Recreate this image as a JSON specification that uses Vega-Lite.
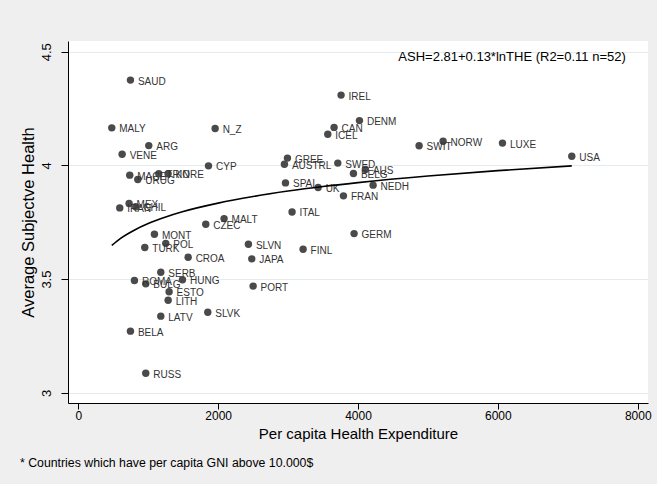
{
  "$schema": "https://vega.github.io/schema/vega-lite/v6.json",
  "width": 580,
  "height": 362,
  "autosize": "none",
  "padding": {"left": 68, "top": 41, "right": 9, "bottom": 81},
  "background": "#efefef",
  "config": {
    "view": {"fill": "white", "stroke": null},
    "font": "Liberation Sans"
  },
  "title": {
    "text": "* Countries which have per capita GNI above 10.000$",
    "orient": "bottom",
    "anchor": "start",
    "frame": "bounds",
    "font": "Liberation Sans",
    "fontSize": 12.3,
    "fontWeight": "normal",
    "color": "#000000",
    "offset": 16
  },
  "datasets": {
    "points": [
      {"country": "SAUD", "the": 746, "ash": 4.375},
      {"country": "MALY", "the": 479, "ash": 4.165},
      {"country": "N_Z", "the": 1957, "ash": 4.162},
      {"country": "ARG", "the": 1008, "ash": 4.087},
      {"country": "VENE", "the": 627, "ash": 4.049},
      {"country": "CYP", "the": 1862, "ash": 3.998},
      {"country": "GREE", "the": 2991, "ash": 4.032},
      {"country": "AUSTRL", "the": 2948, "ash": 4.005},
      {"country": "MACE", "the": 736, "ash": 3.957},
      {"country": "URUG", "the": 851, "ash": 3.938},
      {"country": "TRIN", "the": 1151, "ash": 3.963},
      {"country": "KORE", "the": 1284, "ash": 3.963},
      {"country": "SPAI", "the": 2963, "ash": 3.923},
      {"country": "MEX", "the": 727, "ash": 3.832},
      {"country": "IRAN", "the": 593, "ash": 3.813},
      {"country": "CHIL", "the": 822, "ash": 3.818},
      {"country": "MALT", "the": 2085, "ash": 3.766},
      {"country": "ITAL", "the": 3057, "ash": 3.795},
      {"country": "CZEC", "the": 1823, "ash": 3.741},
      {"country": "MONT", "the": 1089, "ash": 3.697},
      {"country": "POL", "the": 1251, "ash": 3.657},
      {"country": "TURK", "the": 951, "ash": 3.639},
      {"country": "SLVN", "the": 2433, "ash": 3.653},
      {"country": "CROA", "the": 1571, "ash": 3.596},
      {"country": "JAPA", "the": 2481, "ash": 3.589},
      {"country": "SERB", "the": 1180, "ash": 3.530},
      {"country": "ROMA", "the": 803, "ash": 3.494},
      {"country": "BULG", "the": 965, "ash": 3.479},
      {"country": "HUNG", "the": 1490, "ash": 3.497},
      {"country": "PORT", "the": 2500, "ash": 3.469},
      {"country": "ESTO", "the": 1299, "ash": 3.444},
      {"country": "LITH", "the": 1285, "ash": 3.407},
      {"country": "SLVK", "the": 1852, "ash": 3.354},
      {"country": "LATV", "the": 1180, "ash": 3.337},
      {"country": "BELA", "the": 746, "ash": 3.271},
      {"country": "RUSS", "the": 965, "ash": 3.086},
      {"country": "IREL", "the": 3758, "ash": 4.309},
      {"country": "DENM", "the": 4021, "ash": 4.197},
      {"country": "CAN", "the": 3658, "ash": 4.167},
      {"country": "ICEL", "the": 3568, "ash": 4.137},
      {"country": "SWIT", "the": 4874, "ash": 4.086},
      {"country": "SWED", "the": 3711, "ash": 4.010},
      {"country": "BELG", "the": 3935, "ash": 3.964},
      {"country": "AUS", "the": 4106, "ash": 3.982},
      {"country": "UK", "the": 3430, "ash": 3.903},
      {"country": "NEDH", "the": 4216, "ash": 3.913},
      {"country": "FRAN", "the": 3792, "ash": 3.866},
      {"country": "GERM", "the": 3944, "ash": 3.700},
      {"country": "FINL", "the": 3215, "ash": 3.631},
      {"country": "NORW", "the": 5217, "ash": 4.106},
      {"country": "LUXE", "the": 6066, "ash": 4.098},
      {"country": "USA", "the": 7057, "ash": 4.040}
    ],
    "fit": [
      {"the": 479, "ash": 3.648},
      {"the": 600, "ash": 3.678},
      {"the": 800, "ash": 3.715},
      {"the": 1000, "ash": 3.744},
      {"the": 1250, "ash": 3.773},
      {"the": 1500, "ash": 3.797},
      {"the": 2000, "ash": 3.834},
      {"the": 2500, "ash": 3.863},
      {"the": 3000, "ash": 3.887},
      {"the": 3500, "ash": 3.907},
      {"the": 4000, "ash": 3.924},
      {"the": 5000, "ash": 3.953},
      {"the": 6000, "ash": 3.977},
      {"the": 7057, "ash": 3.998}
    ],
    "note": [
      {"the": 7829, "ash": 4.476, "label": "ASH=2.81+0.13*lnTHE (R2=0.11 n=52)"}
    ]
  },
  "encoding": {
    "x": {
      "field": "the",
      "type": "quantitative",
      "scale": {"domain": [-147, 8147], "nice": false, "zero": false},
      "axis": {
        "title": "Per capita Health Expenditure",
        "values": [0, 2000, 4000, 6000, 8000],
        "format": "d",
        "grid": false,
        "domainColor": "#000000",
        "tickColor": "#000000",
        "tickSize": 6,
        "labelPadding": 1,
        "labelFont": "Liberation Sans",
        "labelFontSize": 12,
        "labelColor": "#000000",
        "titleFont": "Liberation Sans",
        "titleFontSize": 15,
        "titleFontWeight": "normal",
        "titleColor": "#000000",
        "titlePadding": 5
      }
    },
    "y": {
      "field": "ash",
      "type": "quantitative",
      "scale": {"domain": [2.955, 4.547], "nice": false, "zero": false},
      "axis": {
        "title": "Average Subjectve Health",
        "values": [3, 3.5, 4, 4.5],
        "format": "~g",
        "grid": true,
        "gridColor": "#e4ebf0",
        "gridWidth": 1.2,
        "domainColor": "#000000",
        "tickColor": "#000000",
        "tickSize": 7,
        "labelAngle": -90,
        "labelAlign": "center",
        "labelBaseline": "bottom",
        "labelPadding": 8,
        "labelFont": "Liberation Sans",
        "labelFontSize": 13,
        "labelColor": "#000000",
        "titleFont": "Liberation Sans",
        "titleFontSize": 16.5,
        "titleFontWeight": "normal",
        "titleColor": "#000000",
        "titlePadding": 4
      }
    }
  },
  "layer": [
    {
      "data": {"name": "points"},
      "mark": {"type": "circle", "size": 55, "color": "#4a4a4a", "opacity": 1}
    },
    {
      "data": {"name": "points"},
      "mark": {"type": "text", "align": "left", "baseline": "middle", "dx": 7.5, "dy": 1.5, "fontSize": 10, "color": "#333333", "font": "Liberation Sans"},
      "encoding": {"text": {"field": "country"}}
    },
    {
      "data": {"name": "fit"},
      "mark": {"type": "line", "color": "#000000", "strokeWidth": 1.6, "interpolate": "monotone"},
      "encoding": {}
    },
    {
      "data": {"name": "note"},
      "mark": {"type": "text", "align": "right", "baseline": "middle", "fontSize": 13, "color": "#000000", "font": "Liberation Sans"},
      "encoding": {"text": {"field": "label"}}
    }
  ]
}
